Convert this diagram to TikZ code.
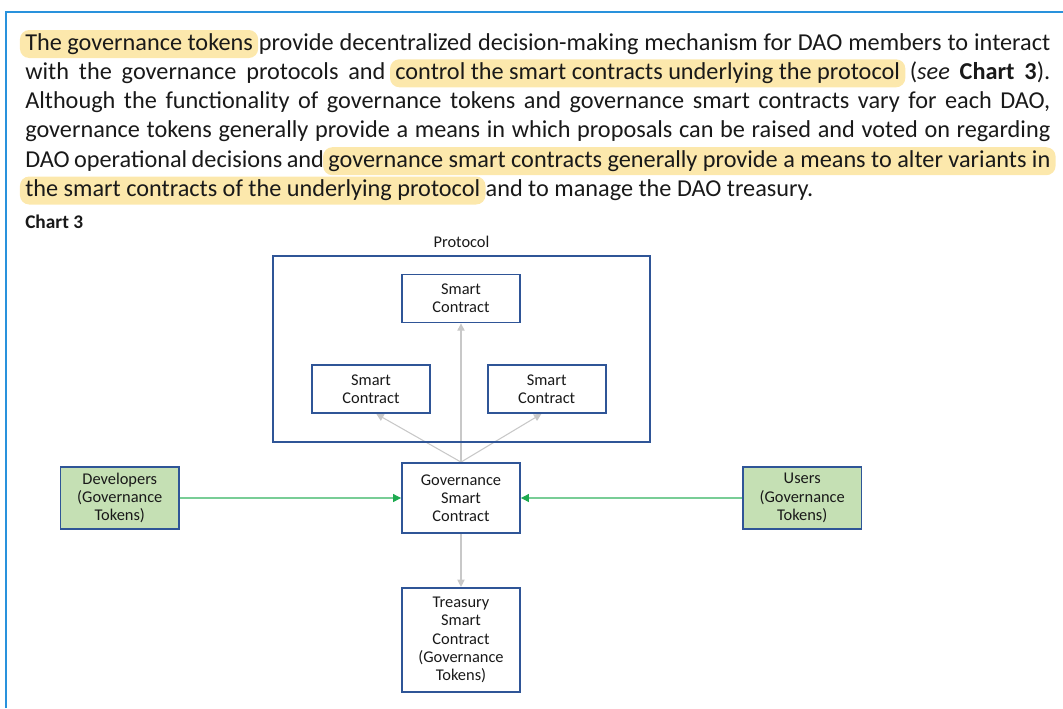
\documentclass[tikz,border=0pt]{standalone}
\usepackage{fontspec}
\setmainfont{Carlito}
\usetikzlibrary{positioning, arrows.meta, backgrounds}

\definecolor{framecol}{RGB}{41,146,220}
\definecolor{boxcol}{RGB}{47,85,151}
\definecolor{tokfill}{RGB}{197,224,180}
\definecolor{hlcol}{RGB}{252,232,172}
\definecolor{linkgray}{RGB}{200,200,200}
\definecolor{linkgreen}{RGB}{120,205,150}
\definecolor{tipgreen}{RGB}{30,170,80}
\definecolor{inkcol}{RGB}{25,25,25}

\tikzset{
  hlbox/.style={fill=hlcol, rounded corners=7pt, inner xsep=4pt, inner ysep=0pt, text height=15pt, text depth=6pt},
  bodyline/.style={anchor=base west, inner sep=0pt, font=\fontsize{18.2}{22}\selectfont, text=inkcol},
  scbox/.style={draw=boxcol, line width=1.4pt, minimum width=88.5pt, minimum height=36pt, align=center, inner sep=0pt, font=\fontsize{12.3}{13.7}\selectfont, text=inkcol},
  tokbox/.style={scbox, fill=tokfill, minimum width=89pt, minimum height=46.5pt},
  graylink/.style={draw=linkgray, line width=0.8pt, -{Triangle[length=5.5pt, width=5.5pt]}},
  greenlink/.style={draw=linkgreen, line width=0.8pt, -{Triangle[length=6pt, width=6pt, color=tipgreen]}}
}
\newcommand{\marked}[1]{\hspace{-4pt}\tikz[baseline=(hltxt.base)]\node[hlbox] (hltxt) {#1};\hspace{-4pt}}
\newcommand{\fullline}[1]{\makebox[768.75pt][s]{#1}}

\begin{document}
\begin{tikzpicture}[x=0.75pt, y=-0.75pt]
  \useasboundingbox (0,0) rectangle (1063,708);
  % frame %
  \draw[framecol, line width=1.5pt] (6,708) -- (6,12) -- (1063,12);

  % text %
  \node[bodyline] (l1) at (25,50) {\fullline{\marked{The governance tokens} provide decentralized decision-making mechanism for DAO members to interact}};
  \node[bodyline] (l2) at (25,79.3) {\fullline{with the governance protocols and \marked{control the smart contracts underlying the protocol} (\textit{see} \textbf{Chart 3}).}};
  \node[bodyline] (l3) at (25,108.6) {\fullline{Although the functionality of governance tokens and governance smart contracts vary for each DAO,}};
  \node[bodyline] (l4) at (25,137.9) {\fullline{governance tokens generally provide a means in which proposals can be raised and voted on regarding}};
  \node[bodyline] (l5) at (25,167.2) {\fullline{DAO operational decisions and \marked{governance smart contracts generally provide a means to alter variants in}}};
  \node[bodyline] (l6) at (25,196.5) {\marked{the smart contracts of the underlying protocol} and to manage the DAO treasury.};
  \node[bodyline, font=\bfseries\fontsize{14.5}{17}\selectfont] (chart) at (25,228.5) {Chart 3};

  % nodes %
  \node[scbox, minimum height=52.5pt] (gov) at (461,498) {Governance\\Smart\\Contract};
  \node[scbox, above=104pt of gov] (topsc) {Smart\\Contract};
  \node[scbox] (leftsc) at (371,389) {Smart\\Contract};
  \node[scbox] (rightsc) at (546.7,389) {Smart\\Contract};
  \node[tokbox, left=165.75pt of gov] (dev) {Developers\\(Governance\\Tokens)};
  \node[tokbox, right=165.75pt of gov] (users) {Users\\(Governance\\Tokens)};
  \node[scbox, minimum height=78pt, below=39.75pt of gov] (treasury) {Treasury\\Smart\\Contract\\(Governance\\Tokens)};
  \node[draw=boxcol, line width=1.4pt, minimum width=282.75pt, minimum height=139.5pt, inner sep=0pt] (protocol) at (461.5,349.3) {};
  \node[anchor=base, inner sep=0pt, font=\fontsize{12.3}{13.7}\selectfont, text=inkcol] (protlabel) at ([yshift=5.6pt]protocol.north) {Protocol};

  % edges %
  \begin{scope}[on background layer]
    \draw[graylink] (gov.north) -- (topsc.south);
    \draw[graylink] (gov.north) -- ([xshift=4pt]leftsc.south);
    \draw[graylink] (gov.north) -- ([xshift=-4pt]rightsc.south);
    \draw[graylink] (gov.south) -- (treasury.north);
    \draw[greenlink] (dev) -- (gov);
    \draw[greenlink] (users) -- (gov);
  \end{scope}
\end{tikzpicture}
\end{document}
